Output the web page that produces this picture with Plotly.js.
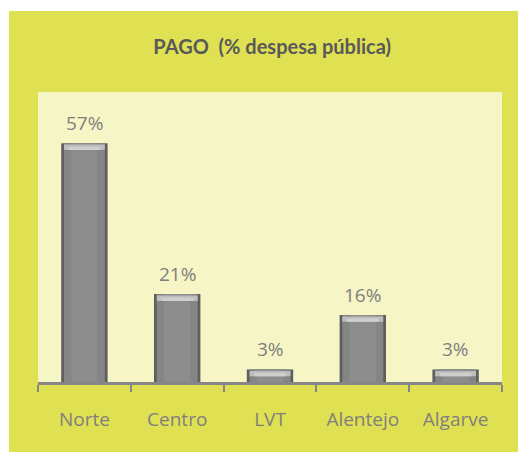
<!DOCTYPE html>
<html>
<head>
<meta charset="utf-8">
<script src="https://cdn.plot.ly/plotly-3.0.1.min.js"></script>
<style>
  html, body { margin: 0; padding: 0; background: #ffffff; }
  #chart { position: absolute; left: 9px; top: 11px; width: 509px; height: 441px; }
</style>
</head>
<body>
<div id="chart"></div>
<script>
const categories = ["Norte", "Centro", "LVT", "Alentejo", "Algarve"];
const values = [57, 21, 3, 16, 3];
const labels = values.map(v => v + "%");

const labelFont = { family: "Open Sans, sans-serif", size: 19, color: "#7f7f7f" };

const capHeight = 1.3;
const traces = [
  { type: "bar", x: categories, y: values, width: 0.5,
    marker: { color: "#5f5f5f", line: { width: 0 } }, hoverinfo: "skip", showlegend: false },
  { type: "bar", x: categories, y: values, width: 0.44,
    marker: { color: "#858585", line: { width: 0 } }, hoverinfo: "skip", showlegend: false },
  { type: "bar", x: categories, y: values, width: 0.28,
    marker: { color: "#8d8d8d", line: { width: 0 } }, hoverinfo: "skip", showlegend: false },
  { type: "bar", x: categories, y: values.map(() => capHeight), base: values.map(v => v - capHeight - 0.35),
    width: 0.44, marker: { color: "#bdbdbd", line: { width: 0 } }, hoverinfo: "skip", showlegend: false },
  { type: "bar", x: categories, y: values.map(() => capHeight * 0.6), base: values.map(v => v - capHeight - 0.35),
    width: 0.34, marker: { color: "#cfcfcf", line: { width: 0 } }, hoverinfo: "skip", showlegend: false }
];

const annotations = categories.map((c, i) => ({
  x: c, y: values[i], xref: "x", yref: "y",
  text: labels[i], showarrow: false, yanchor: "bottom", yshift: 5,
  font: labelFont
}));

const layout = {
  width: 509, height: 441,
  paper_bgcolor: "#dfe052",
  plot_bgcolor: "#f5f5c6",
  margin: { l: 29, r: 16, t: 81, b: 70 },
  barmode: "overlay",
  title: {
    text: "PAGO&nbsp;&nbsp;(% despesa pública)",
    font: { family: "Lato, sans-serif", size: 20, color: "#595959", weight: "bold" },
    x: 0.517, xref: "container", xanchor: "center",
    y: 0.918, yref: "container", yanchor: "middle"
  },
  xaxis: {
    type: "category", range: [-0.5, 4.5],
    showline: true, linewidth: 3, linecolor: "#868686",
    ticks: "outside", tickson: "boundaries", ticklen: 7, tickwidth: 2, tickcolor: "#868686",
    ticklabelstandoff: 18,
    tickfont: labelFont, showgrid: false, zeroline: false, fixedrange: true
  },
  yaxis: {
    range: [0, 69.2], visible: false, showgrid: false, zeroline: false, fixedrange: true
  },
  annotations: annotations,
  showlegend: false
};

Plotly.newPlot("chart", traces, layout, { staticPlot: true, displayModeBar: false });
</script>
</body>
</html>
